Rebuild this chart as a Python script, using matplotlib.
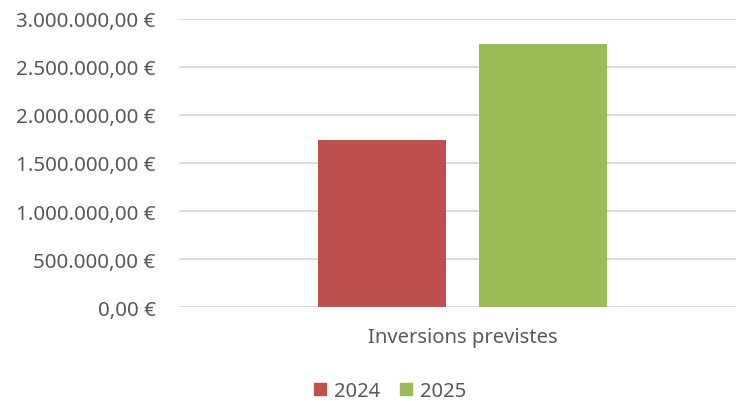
import matplotlib
matplotlib.use("Agg")
import matplotlib.pyplot as plt
from matplotlib.ticker import FuncFormatter
from matplotlib.patches import Patch

categories = ["Inversions previstes"]
series_names = ["2024", "2025"]
values_2024 = [1738000]
values_2025 = [2735000]
colors = ["#C0504D", "#9BBB59"]

plt.rcParams['font.family'] = ['Noto Sans', 'DejaVu Sans']
txt = "#595959"

fig = plt.figure(figsize=(7.36, 4.02), dpi=100)
ax = fig.add_axes([179/736, (402-308.3)/402, 1 - 179/736, (308.3-19.5)/402])

width = 128/567
offset = 0.142
x = [0]
ax.bar([xi - offset for xi in x], values_2024, width, color=colors[0], zorder=3)
ax.bar([xi + offset for xi in x], values_2025, width, color=colors[1], zorder=3)

ax.set_xlim(-0.5, -0.5 + 557/567)
ax.set_ylim(0, 3000000)
ax.set_yticks([0, 500000, 1000000, 1500000, 2000000, 2500000, 3000000])

def fmt(v, pos):
    s = f"{v:,.2f}"
    s = s.replace(",", "X").replace(".", ",").replace("X", ".")
    return s + " €"
ax.yaxis.set_major_formatter(FuncFormatter(fmt))
ax.set_xticks(x)
ax.set_xticklabels(categories)

ax.grid(axis='y', color='#D9D9D9', linewidth=1.3, zorder=0)
for s in ax.spines.values():
    s.set_visible(False)
ax.tick_params(axis='y', length=0, pad=17, labelsize=14.8, labelcolor=txt)
ax.tick_params(axis='x', length=0, pad=14, labelsize=14.5, labelcolor=txt)

handles = [Patch(color=colors[0], label=series_names[0]),
           Patch(color=colors[1], label=series_names[1])]
fig.legend(handles=handles, loc='center', bbox_to_anchor=(390/736, 1 - 392/402),
           ncol=2, frameon=False, fontsize=14.5, labelcolor=txt,
           handlelength=0.6, handleheight=0.6, handletextpad=0.4, columnspacing=1.0)

fig.savefig("out.png", dpi=100)
